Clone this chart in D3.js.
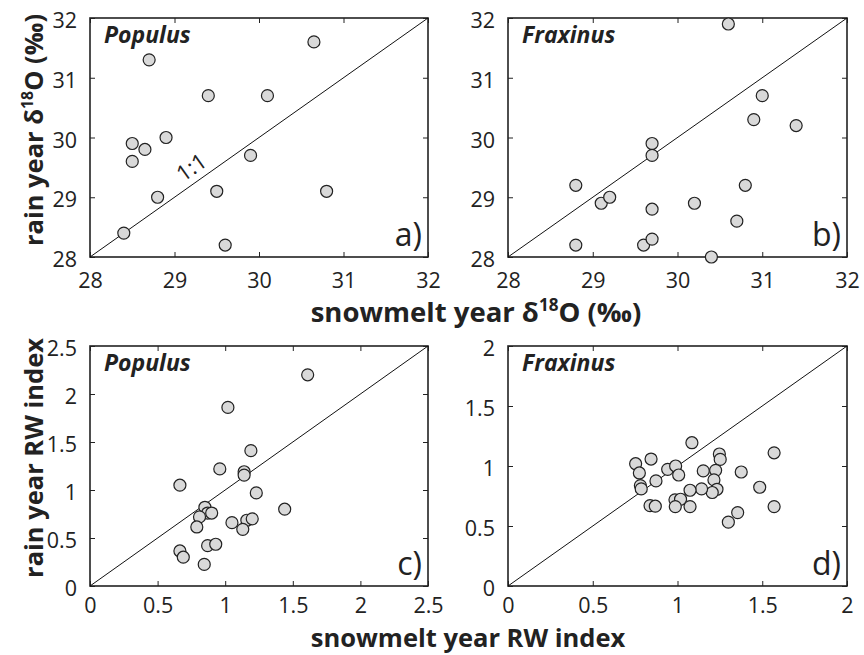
<!DOCTYPE html>
<html>
<head>
<meta charset="utf-8">
<script src="https://cdn.jsdelivr.net/npm/d3@7"></script>
<style>
  html, body { margin: 0; padding: 0; background: #fff; }
  svg { display: block; font-family: "Open Sans", "DejaVu Sans", sans-serif; }
</style>
</head>
<body>
<svg id="chart" width="864" height="655"></svg>
<script>
// ---- data ----
const populusIsoSnow = [28.4, 28.7, 29.4, 30.1, 30.65, 28.9, 28.5, 28.65, 28.5, 29.9, 28.8, 29.5, 30.8, 29.6];
const populusIsoRain = [28.4, 31.3, 30.7, 30.7, 31.6, 30.0, 29.9, 29.8, 29.6, 29.7, 29.0, 29.1, 29.1, 28.2];

const fraxinusIsoSnow = [30.6, 31.0, 30.9, 31.4, 29.7, 29.7, 28.8, 29.1, 29.2, 29.7, 30.2, 30.8, 30.7, 28.8, 29.6, 29.7, 30.4];
const fraxinusIsoRain = [31.9, 30.7, 30.3, 30.2, 29.9, 29.7, 29.2, 28.9, 29.0, 28.8, 28.9, 29.2, 28.6, 28.2, 28.2, 28.3, 28.0];

const populusRwSnow = [1.61, 1.02, 1.19, 0.96, 1.14, 1.14, 0.665, 1.23, 1.44, 0.85, 0.87, 0.90, 0.81, 0.79, 1.05, 1.16, 1.20, 1.13, 0.87, 0.93, 0.665, 0.69, 0.845];
const populusRwRain = [2.20, 1.86, 1.41, 1.22, 1.19, 1.155, 1.05, 0.97, 0.80, 0.82, 0.76, 0.76, 0.72, 0.615, 0.66, 0.685, 0.70, 0.59, 0.42, 0.435, 0.365, 0.30, 0.225];

const fraxinusRwSnow = [1.085, 1.247, 1.252, 1.57, 0.844, 0.753, 0.775, 0.781, 0.786, 0.873, 0.942, 0.989, 1.007, 1.152, 1.225, 1.215, 1.233, 1.205, 1.142, 1.074, 0.985, 1.018, 0.987, 1.074, 0.838, 0.869, 1.376, 1.485, 1.355, 1.300, 1.57];
const fraxinusRwRain = [1.194, 1.100, 1.055, 1.11, 1.058, 1.019, 0.942, 0.837, 0.809, 0.876, 0.972, 1.000, 0.925, 0.959, 0.964, 0.884, 0.806, 0.779, 0.809, 0.798, 0.718, 0.723, 0.662, 0.662, 0.670, 0.665, 0.950, 0.823, 0.612, 0.532, 0.662];

const isoTicks = [28, 29, 30, 31, 32];
const rwTicksPopulus = [0, 0.5, 1, 1.5, 2, 2.5];
const rwTicksFraxinus = [0, 0.5, 1, 1.5, 2];

const panelTitles = ["Populus", "Fraxinus", "Populus", "Fraxinus"];
const panelLetters = ["a)", "b)", "c)", "d)"];
const labelIsoX = "snowmelt year δ";
const labelRwX = "snowmelt year RW index";
const labelIsoY = "rain year δ";
const labelRwY = "rain year RW index";

// ---- layout ----
const svg = d3.select("#chart");
const panels = [
  { x0: 90,  x1: 428, y0: 18,  y1: 257, dom: [28, 32],  ticks: isoTicks, xs: populusIsoSnow, ys: populusIsoRain, oneToOne: true, pad: 16 },
  { x0: 508, x1: 847, y0: 18,  y1: 257, dom: [28, 32],  ticks: isoTicks, xs: fraxinusIsoSnow, ys: fraxinusIsoRain, pad: 16 },
  { x0: 90,  x1: 428, y0: 346, y1: 586, dom: [0, 2.5], ticks: rwTicksPopulus, xs: populusRwSnow, ys: populusRwRain, pad: 12 },
  { x0: 508, x1: 847, y0: 346, y1: 586, dom: [0, 2],   ticks: rwTicksFraxinus, xs: fraxinusRwSnow, ys: fraxinusRwRain, pad: 12 }
];

panels.forEach((p, i) => {
  const x = d3.scaleLinear().domain(p.dom).range([p.x0, p.x1]);
  const y = d3.scaleLinear().domain(p.dom).range([p.y1, p.y0]);
  const g = svg.append("g");
  const fmt = d => String(d);

  // axes with inward ticks
  g.append("g").attr("transform", `translate(0,${p.y1})`)
    .call(d3.axisBottom(x).tickValues(p.ticks).tickFormat(fmt).tickSizeInner(-5).tickSizeOuter(0).tickPadding(p.pad));
  g.append("g").attr("transform", `translate(0,${p.y0})`)
    .call(d3.axisTop(x).tickValues(p.ticks).tickFormat("").tickSizeInner(-5).tickSizeOuter(0));
  const yl = g.append("g").attr("transform", `translate(${p.x0},0)`)
    .call(d3.axisLeft(y).tickValues(p.ticks).tickFormat(fmt).tickSizeInner(-5).tickSizeOuter(0).tickPadding(13));
  yl.selectAll("text").attr("dy", "0.45em");
  g.append("g").attr("transform", `translate(${p.x1},0)`)
    .call(d3.axisRight(y).tickValues(p.ticks).tickFormat("").tickSizeInner(-5).tickSizeOuter(0));
  g.selectAll(".domain").remove();
  g.selectAll(".tick line").attr("stroke", "#222").attr("stroke-width", 1);
  g.selectAll(".tick text").attr("font-size", 21.5).attr("fill", "#222")
    .attr("font-family", "'Open Sans', sans-serif");

  // frame
  g.append("rect").attr("x", p.x0).attr("y", p.y0)
    .attr("width", p.x1 - p.x0).attr("height", p.y1 - p.y0)
    .attr("fill", "none").attr("stroke", "#222").attr("stroke-width", 1.6);

  // 1:1 line
  g.append("line")
    .attr("x1", x(p.dom[0])).attr("y1", y(p.dom[0]))
    .attr("x2", x(p.dom[1])).attr("y2", y(p.dom[1]))
    .attr("stroke", "#111").attr("stroke-width", 1);

  if (p.oneToOne) {
    const ang = Math.atan2(y(p.dom[1]) - y(p.dom[0]), x(p.dom[1]) - x(p.dom[0])) * 180 / Math.PI;
    g.append("text")
      .attr("transform", `translate(${x(29.3)},${y(29.3)}) rotate(${ang})`)
      .attr("text-anchor", "middle").attr("dy", -7)
      .attr("font-size", 22).attr("fill", "#222").text("1:1");
  }

  // points
  g.selectAll("circle.pt").data(p.xs.map((v, k) => [v, p.ys[k]]))
    .join("circle").attr("class", "pt")
    .attr("cx", d => x(d[0])).attr("cy", d => y(d[1])).attr("r", 6)
    .attr("fill", "#d9d9d9").attr("stroke", "#222").attr("stroke-width", 1.2);

  // titles
  g.append("text").attr("x", p.x0 + 14).attr("y", p.y0 + 25)
    .attr("font-size", 23).attr("font-weight", "bold").attr("font-style", "italic")
    .attr("fill", "#222").text(panelTitles[i]);
  g.append("text").attr("x", p.x1 - 6).attr("y", p.y1 - 11)
    .attr("text-anchor", "end").attr("font-size", 32).attr("fill", "#222")
    .text(panelLetters[i]);
});

// axis titles
function isoLabel(sel, base) {
  sel.append("tspan").text(base);
  sel.append("tspan").attr("font-size", "0.62em").attr("dy", "-0.62em").text("18");
  sel.append("tspan").attr("dy", "0.385em").text("O (‰)");
}
const tx1 = svg.append("text").attr("x", 476).attr("y", 322).attr("text-anchor", "middle")
  .attr("font-size", 27.5).attr("font-weight", "bold").attr("fill", "#222");
isoLabel(tx1, labelIsoX);
svg.append("text").attr("x", 468).attr("y", 647).attr("text-anchor", "middle")
  .attr("font-size", 25.5).attr("font-weight", "bold").attr("fill", "#222").text(labelRwX);

const ty1 = svg.append("text").attr("transform", "translate(43,130) rotate(-90)")
  .attr("text-anchor", "middle").attr("font-size", 25.5).attr("font-weight", "bold").attr("fill", "#222");
isoLabel(ty1, labelIsoY);
svg.append("text").attr("transform", "translate(43,458) rotate(-90)")
  .attr("text-anchor", "middle").attr("font-size", 25.5).attr("font-weight", "bold").attr("fill", "#222")
  .text(labelRwY);
</script>
</body>
</html>
